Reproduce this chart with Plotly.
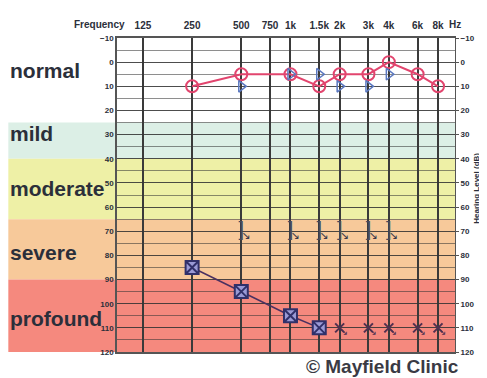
import plotly.graph_objects as go
import math

# ---------------- data ----------------
freqs = [125, 250, 500, 750, 1000, 1500, 2000, 3000, 4000, 6000, 8000]
freq_labels = ["125", "250", "500", "750", "1k", "1.5k", "2k", "3k", "4k", "6k", "8k"]
db_ticks = [-10, 0, 10, 20, 30, 40, 50, 60, 70, 80, 90, 100, 110, 120]

right_air_f = [250, 500, 1000, 1500, 2000, 3000, 4000, 6000, 8000]
right_air_db = [10, 5, 5, 10, 5, 5, 0, 5, 10]

left_bone_f = [500, 1000, 1500, 2000, 3000, 4000]
left_bone_db = [10, 5, 5, 10, 10, 5]

masked_bone_nr_f = [500, 1000, 1500, 2000, 3000, 4000]
masked_bone_nr_db = [70, 70, 70, 70, 70, 70]

left_air_f = [250, 500, 1000, 1500]
left_air_db = [85, 95, 105, 110]

left_air_nr_f = [2000, 3000, 4000, 6000, 8000]
left_air_nr_db = [110, 110, 110, 110, 110]

band_names = ["normal", "mild", "moderate", "severe", "profound"]
band_lo = [-10, 25, 40, 65, 90]
band_hi = [25, 40, 65, 90, 120]
band_label_db = [3.5, 29.5, 52.5, 79, 106]
band_colors = ["rgba(255,255,255,0)", "#dcefe6", "#eef0a6", "#f7c99a", "#f5897e"]

Y_TOP, Y_BOT = -10, 120
X_LO = math.log10(125) - 0.527 * math.log10(2)
X_HI = math.log10(8000) + 0.345 * math.log10(2)

def ypaper(db):
    return (Y_BOT - db) / (Y_BOT - Y_TOP)

FONT = "Liberation Sans, Arial, sans-serif"
INK = "#2b2f3a"
PW = 339.0  # plot width in px

fig = go.Figure()

# bands
shapes = []
for lo, hi, c in zip(band_lo, band_hi, band_colors):
    shapes.append(dict(type="rect", xref="paper", yref="paper", x0=-109 / PW, x1=1,
                       y0=ypaper(hi), y1=ypaper(lo), fillcolor=c, line=dict(width=0),
                       layer="below"))

# right air (circles)
fig.add_trace(go.Scatter(x=right_air_f, y=right_air_db, mode="lines+markers",
                         line=dict(color="#e2456e", width=2),
                         marker=dict(symbol="circle-open", size=12, color="#e2456e",
                                     line=dict(width=2)),
                         showlegend=False))
# left bone ">"
fig.add_trace(go.Scatter(x=left_bone_f, y=left_bone_db, mode="markers",
                         marker=dict(symbol="triangle-right-open", size=10, color="#5a78c0",
                                     line=dict(width=1.5)),
                         showlegend=False))
# masked bone no response "]" + arrow
fig.add_trace(go.Scatter(x=masked_bone_nr_f, y=masked_bone_nr_db, mode="text",
                         text=["]"] * len(masked_bone_nr_f),
                         textfont=dict(family=FONT, size=20, color="#4a4a5a"),
                         showlegend=False))
fig.add_trace(go.Scatter(x=masked_bone_nr_f, y=masked_bone_nr_db, mode="text",
                         text=["↘"] * len(masked_bone_nr_f), textposition="bottom right",
                         textfont=dict(family="DejaVu Sans", size=11, color="#3a3a4a"),
                         showlegend=False))
# left air (boxed X) with line
fig.add_trace(go.Scatter(x=left_air_f, y=left_air_db, mode="lines+markers",
                         line=dict(color="#4a3060", width=1.5),
                         marker=dict(symbol="square-x", size=13, color="#9a9ad6",
                                     line=dict(width=2, color="#30306a")),
                         showlegend=False))
# left air no response
fig.add_trace(go.Scatter(x=left_air_nr_f, y=left_air_nr_db, mode="markers",
                         marker=dict(symbol="x-thin-open", size=9, color="#503050",
                                     line=dict(width=2, color="#503050")),
                         showlegend=False))
fig.add_trace(go.Scatter(x=left_air_nr_f, y=left_air_nr_db, mode="text",
                         text=["↘"] * len(left_air_nr_f), textposition="bottom right",
                         textfont=dict(family="DejaVu Sans", size=10, color="#503050"),
                         showlegend=False))
# dummy for right axis
fig.add_trace(go.Scatter(x=[freqs[0]], y=[db_ticks[0]], yaxis="y2", mode="markers",
                         marker=dict(opacity=0), showlegend=False, hoverinfo="skip"))

annotations = []
for name, d in zip(band_names, band_label_db):
    annotations.append(dict(text=name, xref="paper", yref="paper", x=-109 / PW, y=ypaper(d),
                            xanchor="left", yanchor="middle", showarrow=False,
                            font=dict(family=FONT, size=21, color=INK, weight="bold")))
annotations.append(dict(text="Frequency", xref="paper", yref="paper", x=10 / PW,
                        y=1, yshift=14, xanchor="right", yanchor="middle", showarrow=False,
                        font=dict(family=FONT, size=10, color=INK, weight="bold")))
annotations.append(dict(text="Hz", xref="paper", yref="paper", x=1.0,
                        y=1, yshift=14, xanchor="center", yanchor="middle", showarrow=False,
                        font=dict(family=FONT, size=10, color=INK, weight="bold")))
annotations.append(dict(text="Hearing Level (dB)", xref="paper", yref="paper",
                        x=(478 - 117) / PW, y=ypaper(52), textangle=-90,
                        xanchor="center", yanchor="middle", showarrow=False,
                        font=dict(family=FONT, size=8, color=INK, weight="bold")))
annotations.append(dict(text="© Mayfield Clinic", xref="paper", yref="paper",
                        x=(462 - 117) / PW, y=0, yshift=-14, xanchor="right",
                        yanchor="middle", showarrow=False,
                        font=dict(family=FONT, size=19, color="#3a3a44", weight="bold")))

fig.update_layout(
    width=479, height=370,
    margin=dict(l=109, r=31, t=22, b=26),
    paper_bgcolor="white", plot_bgcolor="rgba(0,0,0,0)",
    shapes=shapes, annotations=annotations,
    xaxis=dict(type="log", range=[X_LO, X_HI], side="top", tickvals=freqs,
               ticktext=freq_labels, showgrid=True, gridcolor="#3a3a3a", gridwidth=1.5,
               showline=True, mirror=True, linecolor="#555", linewidth=1.5,
               ticks="", zeroline=False, ticklabelstandoff=3,
               tickfont=dict(family=FONT, size=10, color=INK, weight="bold")),
    yaxis=dict(range=[Y_BOT, Y_TOP], tickvals=db_ticks, showgrid=True,
               gridcolor="rgba(50,50,50,0.7)", gridwidth=1, zeroline=False,
               minor=dict(dtick=5, tick0=0, showgrid=True, gridcolor="rgba(50,50,50,0.55)",
                          gridwidth=1),
               ticks="", showline=True, linecolor="#555", linewidth=1.5,
               tickfont=dict(family=FONT, size=8, color=INK, weight="bold")),
    yaxis2=dict(range=[Y_BOT, Y_TOP], tickvals=db_ticks, overlaying="y", side="right",
                showgrid=False, zeroline=False, ticks="outside", ticklen=3,
                tickcolor="#555", showline=True, linecolor="#555",
                tickfont=dict(family=FONT, size=8, color=INK, weight="bold")),
)

fig.write_html("out.html")
